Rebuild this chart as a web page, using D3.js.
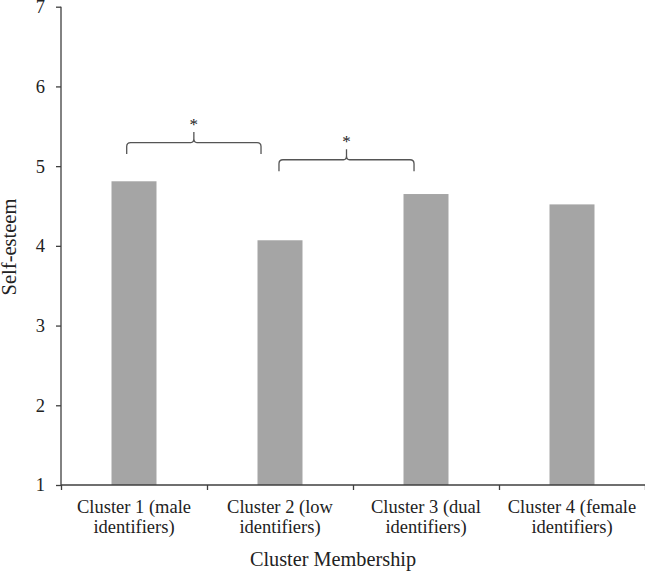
<!DOCTYPE html>
<html>
<head>
<meta charset="utf-8">
<script src="https://cdn.jsdelivr.net/npm/d3@7"></script>
<style>
  html, body { margin: 0; padding: 0; background: #fff; }
  svg { display: block; }
  text { font-family: "Liberation Serif", "Times New Roman", serif; fill: #222; }
</style>
</head>
<body>
<svg id="chart" width="645" height="572"></svg>
<script>
// ---- data ----
const categories = [
  ["Cluster 1 (male", "identifiers)"],
  ["Cluster 2 (low", "identifiers)"],
  ["Cluster 3 (dual", "identifiers)"],
  ["Cluster 4 (female", "identifiers)"]
];
const selfEsteem = [4.81, 4.07, 4.65, 4.52];
const yTicks = [1, 2, 3, 4, 5, 6, 7];
// significance brackets: span in category units, level in data units
const sigFrom = [0.45, 1.493];
const sigTo = [1.37, 2.418];
const sigLevel = [5.295, 5.08];
const sigLabel = ["*", "*"];

// ---- layout ----
const svg = d3.select("#chart");
const mLeft = 61, mRight = 645, mTop = 6.7, mBottom = 485;

const x = d3.scaleBand().domain(d3.range(categories.length)).range([mLeft, mRight]).paddingInner(0).paddingOuter(0);
const xc = d3.scaleLinear().domain([0, categories.length]).range([mLeft, mRight]);
const y = d3.scaleLinear().domain([1, 7]).range([mBottom, mTop]);

const axisColor = "#3f3f3f";
const barWidth = 45;

// bars
svg.append("g").selectAll("rect").data(selfEsteem).join("rect")
  .attr("x", (d, i) => x(i) + x.bandwidth() / 2 - barWidth / 2)
  .attr("y", d => y(d))
  .attr("width", barWidth)
  .attr("height", d => y(1) - y(d))
  .attr("fill", "#a5a5a5");

// y axis
const yAxis = svg.append("g").attr("transform", `translate(${mLeft},0)`)
  .call(d3.axisLeft(y).tickValues(yTicks).tickFormat(d3.format("d")).tickSize(5).tickPadding(11));
yAxis.attr("font-family", null);
yAxis.select(".domain").attr("stroke", axisColor).attr("stroke-width", 1.3).attr("d", `M0,${mTop}H0V${mBottom}`);
yAxis.selectAll(".tick line").attr("stroke", axisColor).attr("stroke-width", 1.3);
yAxis.selectAll(".tick text").attr("font-size", "18.5px").attr("fill", "#222");

// x axis
const xAxis = svg.append("g").attr("transform", `translate(0,${mBottom})`)
  .call(d3.axisBottom(xc).tickValues(d3.range(categories.length + 1)).tickFormat("").tickSize(5));
xAxis.select(".domain").attr("stroke", axisColor).attr("stroke-width", 1.6).attr("d", `M${mLeft},0H${mRight}`);
xAxis.selectAll(".tick line").attr("stroke", axisColor).attr("stroke-width", 1.3);

// category labels
const lab = svg.append("g").selectAll("text").data(categories).join("text")
  .attr("x", (d, i) => x(i) + x.bandwidth() / 2)
  .attr("y", mBottom + 28)
  .attr("text-anchor", "middle")
  .attr("font-size", "18.5px");
lab.selectAll("tspan").data(d => d).join("tspan")
  .attr("x", function () { return this.parentNode.getAttribute("x"); })
  .attr("dy", (d, i) => i === 0 ? 0 : 20)
  .text(d => d);

// axis titles
svg.append("text")
  .attr("x", 333).attr("y", 566)
  .attr("text-anchor", "middle").attr("font-size", "20.3px")
  .text("Cluster Membership");
svg.append("text")
  .attr("transform", `translate(16,247) rotate(-90)`)
  .attr("text-anchor", "middle").attr("font-size", "20.5px")
  .text("Self-esteem");

// significance braces
const braceColor = "#555";
sigLevel.forEach((lv, i) => {
  const x0 = xc(sigFrom[i]), x1 = xc(sigTo[i]);
  const xm = (x0 + x1) / 2;
  const yl = y(lv);
  const drop = 11.5, peak = 10.5, r = 4;
  const p = d3.path();
  p.moveTo(x0, yl + drop);
  p.lineTo(x0, yl + r);
  p.quadraticCurveTo(x0, yl, x0 + r, yl);
  p.lineTo(xm - 3, yl);
  p.quadraticCurveTo(xm, yl, xm, yl - 4);
  p.lineTo(xm, yl - peak);
  p.moveTo(xm, yl - 4);
  p.quadraticCurveTo(xm, yl, xm + 3, yl);
  p.lineTo(x1 - r, yl);
  p.quadraticCurveTo(x1, yl, x1, yl + r);
  p.lineTo(x1, yl + drop);
  svg.append("path").attr("d", p.toString())
    .attr("fill", "none").attr("stroke", braceColor).attr("stroke-width", 1.3);
  svg.append("text")
    .attr("x", xm).attr("y", yl - 12.5)
    .attr("text-anchor", "middle").attr("font-size", "17px")
    .text(sigLabel[i]);
});
</script>
</body>
</html>
